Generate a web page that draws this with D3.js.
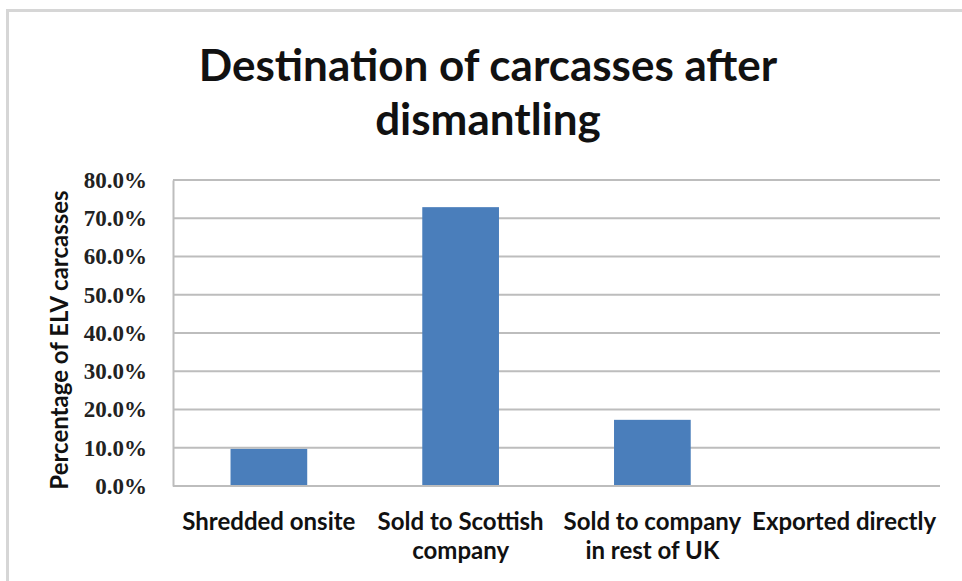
<!DOCTYPE html>
<html>
<head>
<meta charset="utf-8">
<script src="https://cdn.jsdelivr.net/npm/d3@7"></script>
<style>
    body { margin: 0; background: #fff; }
    svg { display: block; }
</style>
</head>
<body>
<div class="chart"></div>
<script>
// data
const categories = ["Shredded onsite", "Sold to Scottish company", "Sold to company in rest of UK", "Exported directly"];
const label_lines = [["Shredded onsite"], ["Sold to Scottish", "company"], ["Sold to company", "in rest of UK"], ["Exported directly"]];
const values = [9.7, 72.9, 17.3, 0];
const y_ticks = [0, 10, 20, 30, 40, 50, 60, 70, 80];

// constants
const width = 962;
const height = 581;
const plot_left = 173;
const plot_right = 940;
const plot_top = 180;
const plot_bottom = 486;

let svg = d3.select(".chart").append("svg")
    .attr("width", width)
    .attr("height", height);

// outer frame (cropped at right/bottom)
svg.append("rect")
    .attr("x", 7.5)
    .attr("y", 10.5)
    .attr("width", 1000)
    .attr("height", 1000)
    .attr("fill", "none")
    .attr("stroke", "#d6d6d6")
    .attr("stroke-width", 3);

// title
const title = svg.append("text")
    .attr("text-anchor", "middle")
    .attr("font-family", "Lato, 'Open Sans', sans-serif")
    .attr("font-weight", "bold")
    .attr("font-size", 44)
    .attr("fill", "#111");
title.append("tspan").attr("x", 488).attr("y", 81).text("Destination of carcasses after");
title.append("tspan").attr("x", 488).attr("y", 135).text("dismantling");

// scales
const x_scale = d3.scaleBand()
    .domain(categories)
    .range([plot_left, plot_right])
    .paddingInner(0.6)
    .paddingOuter(0.3);

const y_scale = d3.scaleLinear()
    .domain([0, 80])
    .range([plot_bottom, plot_top]);

// gridlines
svg.append("g")
    .attr("class", "grid")
    .selectAll("line")
    .data(y_ticks).enter()
    .append("line")
    .attr("x1", plot_left)
    .attr("x2", plot_right)
    .attr("y1", d => y_scale(d))
    .attr("y2", d => y_scale(d))
    .attr("stroke", "#bdbdbd")
    .attr("stroke-width", 2);

// y axis
const y_axis = d3.axisLeft(y_scale)
    .tickValues(y_ticks)
    .tickSize(0)
    .tickPadding(26)
    .tickFormat(d => d.toFixed(1) + "%");
const y_g = svg.append("g")
    .attr("class", "y axis")
    .attr("transform", "translate(" + plot_left + ", 0)")
    .call(y_axis);
y_g.select(".domain")
    .attr("stroke", "#bdbdbd")
    .attr("stroke-width", 2);
y_g.selectAll("text")
    .attr("font-family", "'Liberation Serif', serif")
    .attr("font-weight", "bold")
    .attr("font-size", 23)
    .attr("fill", "#222");

svg.append("text")
    .attr("text-anchor", "middle")
    .attr("transform", "translate(68, 340) rotate(-90)")
    .attr("font-family", "Lato, 'Open Sans', sans-serif")
    .attr("font-weight", "bold")
    .attr("font-size", 24)
    .attr("fill", "#111")
    .text("Percentage of ELV carcasses");

// bars
svg.selectAll(".bar")
    .data(values).enter()
    .append("rect")
    .attr("class", "bar")
    .attr("x", (d, i) => x_scale(categories[i]))
    .attr("width", x_scale.bandwidth())
    .attr("y", d => y_scale(d))
    .attr("height", d => y_scale(0) - y_scale(d))
    .attr("fill", "#4a7ebb");

// x axis
const x_g = svg.append("g")
    .attr("class", "x axis")
    .attr("transform", "translate(0, " + plot_bottom + ")");
x_g.append("line")
    .attr("x1", plot_left)
    .attr("x2", plot_right)
    .attr("stroke", "#bdbdbd")
    .attr("stroke-width", 2);

x_g.selectAll(".label")
    .data(categories).enter()
    .append("text")
    .attr("class", "label")
    .attr("text-anchor", "middle")
    .attr("font-family", "Lato, 'Open Sans', sans-serif")
    .attr("font-weight", "bold")
    .attr("font-size", 24)
    .attr("fill", "#111")
    .each(function(d, i) {
        const t = d3.select(this);
        label_lines[i].forEach((line, j) => {
            t.append("tspan")
                .attr("x", x_scale(d) + x_scale.bandwidth() / 2)
                .attr("y", 44 + j * 29)
                .text(line);
        });
    });
</script>
</body>
</html>
